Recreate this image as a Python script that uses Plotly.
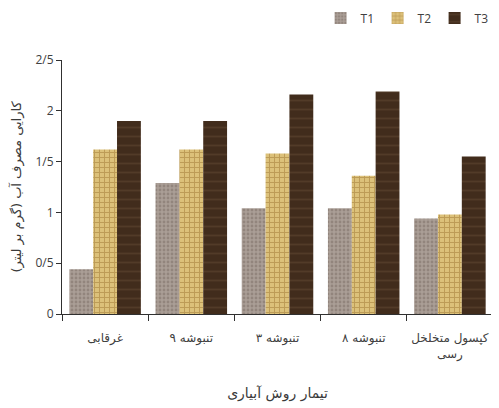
import plotly.graph_objects as go

categories = ["غرقابی", "تنبوشه ۹", "تنبوشه ۳", "تنبوشه ۸", "کپسول متخلخل<br>رسی"]
t1 = [0.44, 1.29, 1.04, 1.04, 0.94]
t2 = [1.62, 1.62, 1.58, 1.36, 0.98]
t3 = [1.90, 1.90, 2.16, 2.19, 1.55]
series_names = ["T1", "T2", "T3"]
ytick_vals = [0, 0.5, 1, 1.5, 2, 2.5]
ytick_text = ["0", "0/5", "1", "1/5", "2", "2/5"]

styles = [
    dict(color="#aa9e96", pattern=dict(shape=".", fgcolor="#7a6c63", size=4, solidity=0.4)),
    dict(color="#dcc17a", pattern=dict(shape="+", fgcolor="#9c7632", size=5, solidity=0.35)),
    dict(color="#412c1c", pattern=dict(shape="-", fgcolor="#634a33", size=9, solidity=0.2)),
]

fig = go.Figure()
for name, vals, st in zip(series_names, [t1, t2, t3], styles):
    fig.add_trace(go.Bar(
        x=categories, y=vals, name=name,
        marker=dict(color=st["color"], pattern=st["pattern"], line=dict(width=0)),
    ))

font_fam = "DejaVu Sans, Noto Sans, sans-serif"
fig.update_layout(
    width=499, height=408,
    margin=dict(l=54, r=14, t=52, b=102, autoexpand=False),
    paper_bgcolor="white", plot_bgcolor="white",
    barmode="group", bargap=0.17, bargroupgap=0,
    font=dict(family=font_fam, size=11, color="#404040"),
    legend=dict(orientation="h", x=0.6, xanchor="left", y=1.165, yanchor="middle",
                font=dict(size=12, color="#404040", family="Open Sans, sans-serif"),
                itemwidth=30, entrywidth=12, traceorder="normal",
                bgcolor="rgba(0,0,0,0)"),
    xaxis=dict(
        showline=True, linecolor="#303030", linewidth=1,
        ticks="outside", tickson="boundaries", ticklen=6, tickcolor="#303030",
        tickangle=0, automargin=False, ticklabelstandoff=13,
        tickfont=dict(size=12, color="#404040"),
        title=dict(text="تیمار روش آبیاری", font=dict(size=14, color="#3a3a3a"), standoff=27),
    ),
    yaxis=dict(
        range=[0, 2.5], tickvals=ytick_vals, ticktext=ytick_text,
        showline=True, linecolor="#303030", linewidth=1,
        ticks="outside", ticklen=5, tickcolor="#303030",
        showgrid=False, zeroline=False, automargin=False,
        tickfont=dict(size=12, color="#404040", family="Open Sans, sans-serif"),
        title=dict(text="کارایی مصرف آب (گرم بر لیتر)", font=dict(size=13, color="#3a3a3a"), standoff=12),
    ),
)

fig.write_html("out.html")
